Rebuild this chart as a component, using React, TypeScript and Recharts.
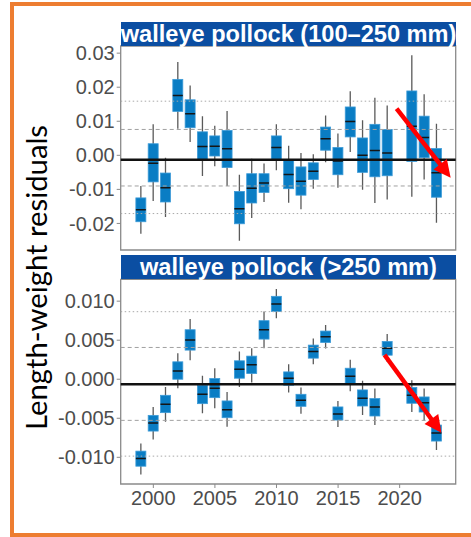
import React from 'react';
import { ComposedChart, Bar, XAxis, YAxis, ReferenceLine, ReferenceArea } from 'recharts';

const YEARS = [1999, 2000, 2001, 2002, 2003, 2004, 2005, 2006, 2007, 2008, 2009, 2010, 2011, 2012, 2013, 2014, 2015, 2016, 2017, 2018, 2019, 2021, 2022, 2023];

// walleye pollock (100–250 mm)
const SMALL_WHISKER_HIGH = [-0.0090, 0.0091, -0.0007, 0.0274, 0.0205, 0.0115, 0.0087, 0.0130, -0.0057, -0.0010, -0.0024, 0.0091, 0.0028, 0.0007, 0.0003, 0.0117, 0.0064, 0.0188, 0.0103, 0.0169, 0.0146, 0.0294, 0.0179, 0.0093];
const SMALL_BOX_HIGH = [-0.0125, 0.0034, -0.0052, 0.0223, 0.0163, 0.0069, 0.0057, 0.0073, -0.0106, -0.0054, -0.0054, 0.0057, -0.0015, -0.0034, -0.0022, 0.0083, 0.0023, 0.0142, 0.0051, 0.0091, 0.0076, 0.0189, 0.0115, 0.0020];
const SMALL_MEDIAN = [-0.0160, -0.0023, -0.0095, 0.0176, 0.0122, 0.0026, 0.0027, 0.0019, -0.0157, -0.0097, -0.0081, 0.0023, -0.0056, -0.0076, -0.0047, 0.0049, -0.0017, 0.0099, 0.0000, 0.0014, 0.0007, 0.0085, 0.0052, -0.0051];
const SMALL_BOX_LOW = [-0.0195, -0.0078, -0.0137, 0.0129, 0.0081, -0.0015, -0.0002, -0.0036, -0.0201, -0.0140, -0.0109, -0.0013, -0.0098, -0.0117, -0.0071, 0.0015, -0.0057, 0.0054, -0.0050, -0.0063, -0.0060, -0.0018, -0.0007, -0.0123];
const SMALL_WHISKER_LOW = [-0.0230, -0.0134, -0.0181, 0.0078, 0.0039, -0.0061, -0.0032, -0.0090, -0.0251, -0.0184, -0.0137, -0.0044, -0.0139, -0.0158, -0.0098, -0.0020, -0.0095, 0.0010, -0.0101, -0.0140, -0.0130, -0.0122, -0.0071, -0.0198];

// walleye pollock (>250 mm)
const LARGE_WHISKER_HIGH = [-0.00822, -0.00356, -0.00099, 0.00334, 0.00771, 0.00043, 0.00141, -0.00163, 0.00355, 0.00398, 0.00869, 0.01156, 0.00193, -0.00107, 0.00523, 0.00694, -0.00278, 0.00248, -0.00021, -0.00120, 0.00578, -0.00013, -0.00120, -0.00480];
const LARGE_BOX_HIGH = [-0.00921, -0.00463, -0.00206, 0.00223, 0.00634, -0.00077, 0.00009, -0.00278, 0.00236, 0.00296, 0.00750, 0.01062, 0.00094, -0.00193, 0.00437, 0.00617, -0.00355, 0.00141, -0.00137, -0.00248, 0.00484, -0.00107, -0.00227, -0.00587];
const LARGE_MEDIAN = [-0.01015, -0.00561, -0.00321, 0.00107, 0.00501, -0.00193, -0.00116, -0.00390, 0.00128, 0.00184, 0.00634, 0.00964, 0.00013, -0.00270, 0.00355, 0.00544, -0.00445, 0.00039, -0.00244, -0.00355, 0.00398, -0.00206, -0.00300, -0.00690];
const LARGE_BOX_LOW = [-0.01114, -0.00664, -0.00428, 0.00000, 0.00373, -0.00313, -0.00236, -0.00493, 0.00013, 0.00073, 0.00514, 0.00869, -0.00077, -0.00347, 0.00270, 0.00471, -0.00523, -0.00056, -0.00343, -0.00471, 0.00308, -0.00308, -0.00420, -0.00792];
const LARGE_WHISKER_LOW = [-0.01221, -0.00771, -0.00544, -0.00116, 0.00244, -0.00437, -0.00373, -0.00608, -0.00099, -0.00043, 0.00398, 0.00780, -0.00171, -0.00441, 0.00193, 0.00394, -0.00612, -0.00154, -0.00458, -0.00587, 0.00223, -0.00420, -0.00535, -0.00908];

const SMALL_TICKS = [-0.02, -0.01, 0, 0.01, 0.02, 0.03];
const LARGE_TICKS = [-0.01, -0.005, 0, 0.005, 0.01];
const YEAR_TICKS = [2000, 2005, 2010, 2015, 2020];

const SMALL_MEAN = -0.00127;
const SMALL_SD1 = [0.0076, -0.0090];
const SMALL_SD2 = [0.0159, -0.0171];
const LARGE_MEAN = -0.00064;
const LARGE_SD1 = [0.00407, -0.00527];
const LARGE_SD2 = [0.00865, -0.00985];

const X_DOMAIN = [1997.35, 2024.55];
const SMALL_Y_DOMAIN = [-0.0278, 0.0321];
const LARGE_Y_DOMAIN = [-0.01342, 0.0128];

const SMALL_ARROW = [{ x: 2019.75, y: 0.0137 }, { x: 2024.14, y: -0.00655 }];
const LARGE_ARROW = [{ x: 2018.77, y: 0.00312 }, { x: 2023.39, y: -0.00686 }];

const SMALL_TITLE = 'walleye pollock (100–250 mm)';
const LARGE_TITLE = 'walleye pollock (>250 mm)';
const Y_TITLE = 'Length-weight residuals';

const buildRows = (wh: number[], bh: number[], md: number[], bl: number[], wl: number[]) =>
  YEARS.map((year, i) => ({
    year,
    range: [bl[i], bh[i]],
    boxHigh: bh[i],
    boxLow: bl[i],
    median: md[i],
    whiskerHigh: wh[i],
    whiskerLow: wl[i],
  }));

const SMALL_ROWS = buildRows(SMALL_WHISKER_HIGH, SMALL_BOX_HIGH, SMALL_MEDIAN, SMALL_BOX_LOW, SMALL_WHISKER_LOW);
const LARGE_ROWS = buildRows(LARGE_WHISKER_HIGH, LARGE_BOX_HIGH, LARGE_MEDIAN, LARGE_BOX_LOW, LARGE_WHISKER_LOW);

const BOX_FILL = '#0A7DC4';
const BOX_EDGE = '#3D9BD8';
const BORDER = '#8a8a8a';
const TICK_TEXT = '#4d4d4d';
const STRIP = '#0B4EA2';
const FONT = '"Liberation Sans", Arial, sans-serif';

const BoxShape = (props: any) => {
  const { x, y, width, height, payload } = props;
  if (!payload || !isFinite(y) || !isFinite(height)) return null;
  const hi = payload.boxHigh;
  const lo = payload.boxLow;
  const yHi = y;
  const yLo = y + height;
  const k = (yLo - yHi) / (lo - hi);
  const py = (v: number) => yHi + (v - hi) * k;
  const cx = x + width / 2;
  const top = Math.min(yHi, yLo);
  const h = Math.abs(yLo - yHi);
  return (
    <g>
      <line x1={cx} x2={cx} y1={py(payload.whiskerHigh)} y2={py(payload.whiskerLow)} stroke="#5a5a5a" strokeWidth={1.3} />
      <rect x={x} y={top} width={width} height={h} fill={BOX_FILL} stroke={BOX_EDGE} strokeWidth={0.8} />
      <line x1={x} x2={x + width} y1={py(payload.median)} y2={py(payload.median)} stroke="#151515" strokeWidth={1.5} />
    </g>
  );
};

const ArrowShape = (props: any) => {
  const { x1, y1, x2, y2 } = props;
  if (![x1, y1, x2, y2].every((v) => isFinite(v))) return null;
  const dx = x2 - x1;
  const dy = y2 - y1;
  const len = Math.hypot(dx, dy) || 1;
  const ux = dx / len;
  const uy = dy / len;
  const head = 17;
  const half = 8.5;
  const bx = x2 - ux * head;
  const by = y2 - uy * head;
  const nx = -uy;
  const ny = ux;
  return (
    <g>
      <line x1={x1} y1={y1} x2={bx + ux * 3} y2={by + uy * 3} stroke="#FF0000" strokeWidth={4.5} />
      <polygon
        points={`${x2},${y2} ${bx + nx * half},${by + ny * half} ${bx - nx * half},${by - ny * half}`}
        fill="#FF0000"
      />
    </g>
  );
};

type PanelProps = {
  rows: any[];
  yDomain: number[];
  ticks: number[];
  digits: number;
  mean: number;
  sd1: number[];
  sd2: number[];
  arrow: { x: number; y: number }[];
  showX: boolean;
  width: number;
  height: number;
  margin: { top: number; right: number; bottom: number; left: number };
};

const Panel = (p: PanelProps) => (
  <ComposedChart width={p.width} height={p.height} data={p.rows} margin={p.margin}>
    <XAxis
      dataKey="year"
      type="number"
      domain={X_DOMAIN}
      allowDataOverflow
      ticks={YEAR_TICKS}
      hide={!p.showX}
      height={53}
      axisLine={false}
      tickLine={{ stroke: BORDER }}
      tickSize={4}
      tickMargin={3}
      tick={{ fill: TICK_TEXT, fontSize: 20, fontFamily: FONT }}
    />
    <YAxis
      type="number"
      domain={p.yDomain}
      allowDataOverflow
      ticks={p.ticks}
      width={120.7}
      axisLine={false}
      tickLine={{ stroke: BORDER }}
      tickSize={4}
      tickMargin={2}
      tickFormatter={(v: number) => v.toFixed(p.digits)}
      tick={{ fill: TICK_TEXT, fontSize: 20, fontFamily: FONT }}
    />
    <ReferenceLine y={p.sd2[0]} stroke="#a8a8a8" strokeWidth={1} strokeDasharray="1.5 2.5" />
    <ReferenceLine y={p.sd2[1]} stroke="#a8a8a8" strokeWidth={1} strokeDasharray="1.5 2.5" />
    <ReferenceLine y={p.sd1[0]} stroke="#a0a0a0" strokeWidth={1} strokeDasharray="4 3" />
    <ReferenceLine y={p.sd1[1]} stroke="#a0a0a0" strokeWidth={1} strokeDasharray="4 3" />
    <Bar dataKey="range" barSize={10} shape={BoxShape} isAnimationActive={false} />
    <ReferenceLine y={p.mean} stroke="#111" strokeWidth={2.5} />
    <ReferenceArea
      x1={X_DOMAIN[0]}
      x2={X_DOMAIN[1]}
      y1={p.yDomain[0]}
      y2={p.yDomain[1]}
      fill="none"
      fillOpacity={0}
      stroke={BORDER}
      strokeWidth={1.3}
      ifOverflow="visible"
    />
    <ReferenceLine segment={p.arrow} ifOverflow="visible" shape={ArrowShape} />
  </ComposedChart>
);

const stripStyle = (top: number): React.CSSProperties => ({
  position: 'absolute',
  left: 120.7,
  top,
  width: 335.5,
  height: 24.3,
  background: STRIP,
  color: '#fff',
  fontFamily: FONT,
  fontWeight: 'bold',
  fontSize: 23.6,
  lineHeight: '24.3px',
  textAlign: 'center',
  whiteSpace: 'nowrap',
  overflow: 'visible',
});

export default function App() {
  return (
    <div
      style={{
        position: 'absolute',
        left: 0,
        top: 0,
        width: 471,
        height: 537,
        overflow: 'hidden',
        background: '#fff',
      }}
    >
      <div
        style={{
          position: 'absolute',
          left: 10,
          top: 2,
          width: 500,
          height: 535,
          boxSizing: 'border-box',
          border: '4px solid #ED7D31',
        }}
      />
      <div style={{ position: 'absolute', left: 0, top: 0 }}>
        <Panel
          rows={SMALL_ROWS}
          yDomain={SMALL_Y_DOMAIN}
          ticks={SMALL_TICKS}
          digits={2}
          mean={SMALL_MEAN}
          sd1={SMALL_SD1}
          sd2={SMALL_SD2}
          arrow={SMALL_ARROW}
          showX={false}
          width={471}
          height={252}
          margin={{ top: 46, right: 15.3, bottom: 2, left: 0 }}
        />
      </div>
      <div style={{ position: 'absolute', left: 0, top: 250 }}>
        <Panel
          rows={LARGE_ROWS}
          yDomain={LARGE_Y_DOMAIN}
          ticks={LARGE_TICKS}
          digits={3}
          mean={LARGE_MEAN}
          sd1={LARGE_SD1}
          sd2={LARGE_SD2}
          arrow={LARGE_ARROW}
          showX={true}
          width={471}
          height={287}
          margin={{ top: 29.3, right: 15.3, bottom: 0, left: 0 }}
        />
      </div>
      <div style={stripStyle(21.7)}>{SMALL_TITLE}</div>
      <div style={stripStyle(255)}>{LARGE_TITLE}</div>
      <svg style={{ position: 'absolute', left: 0, top: 0 }} width={80} height={537}>
        <text
          transform="translate(46.7, 277.5) rotate(-90)"
          textAnchor="middle"
          fontFamily="Lato, 'Open Sans', sans-serif"
          fontSize={29}
          fill="#000"
          textLength={305}
          lengthAdjust="spacingAndGlyphs"
        >
          {Y_TITLE}
        </text>
      </svg>
    </div>
  );
}
